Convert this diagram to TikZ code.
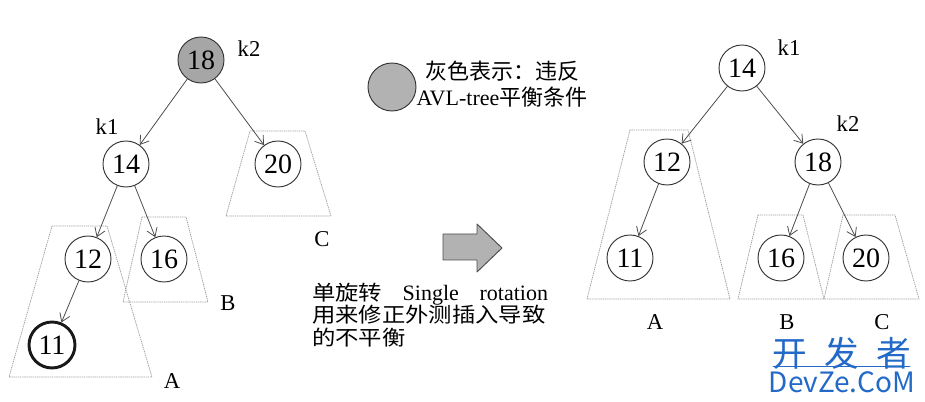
\documentclass[tikz,border=0pt]{standalone}
\usepackage{fontspec}
\setmainfont{Liberation Serif}
\newfontfamily\cjk{Noto Sans CJK SC}
\newfontfamily\cjkwide[FakeStretch=1.13]{Noto Sans CJK SC}
\usetikzlibrary{arrows.meta, positioning}
\definecolor{wmblue}{RGB}{35,105,200}

\begin{document}
\begin{tikzpicture}[x=0.75pt, y=-0.75pt, line cap=round, line join=round]

	%======================
	% STYLES
	%======================
	\tikzset{
		key/.style={circle, draw=black!80, fill=white, line width=0.7pt, minimum size=34.5pt, inner sep=0pt, font=\fontsize{21}{21}\selectfont},
		hot/.style={key, fill=gray!70},
		newkey/.style={key, draw=black!90, line width=2.2pt},
		link/.style={-{Straight Barb[length=6pt, width=8pt]}, draw=black!70, line width=0.6pt},
		subtree/.style={draw=gray!75, densely dotted, line width=0.6pt},
		tag/.style={font=\fontsize{17}{17}\selectfont, inner sep=0pt},
		wm/.style={text=wmblue, inner sep=0pt}
	}
	\useasboundingbox (0,0) rectangle (925,402);

	%======================
	% LEFT TREE (before rotation)
	%======================
	% subtrees
	\draw[subtree] (250,131) -- (305,131) -- (331,216) -- (226,216) -- cycle;
	\draw[subtree] (142,217) -- (186,217) -- (208,302) -- (123,302) -- cycle;
	\draw[subtree] (52,226) -- (107,226) -- (152,377) -- (9,377) -- cycle;

	% keys
	\node[hot] (L18) at (201,60) {18};
	\node[key] (L14) at (126,164) {14};
	\node[key] (L20) at (278,164) {20};
	\node[key] (L12) at (88,259) {12};
	\node[key] (L16) at (164,259) {16};
	\node[newkey] (L11) at (52,345) {11};

	\draw[link] (L18) -- (L14);
	\draw[link] (L18) -- (L20);
	\draw[link] (L14) -- (L12);
	\draw[link] (L14) -- (L16);
	\draw[link] (L12) -- (L11);

	% labels
	\node[tag] (Lk2) at (249,49) {k2};
	\node[tag] (Lk1) at (107,127) {k1};
	\node[tag] (LC) at (322,239) {C};
	\node[tag] (LB) at (228,303) {B};
	\node[tag] (LA) at (172,381) {A};

	%======================
	% LEGEND AND NOTE
	%======================
	\node[hot, minimum size=36pt, fill=gray!60] (legend) at (392,87) {};
	\node[font=\fontsize{16.5}{20}\selectfont, align=center, inner sep=0pt] (legendtxt) at (502,84)
		{{\cjk 灰色表示：违反}\\AVL-tree{\cjk 平衡条件}};

	% block arrow
	\draw[fill=gray!60, draw=black!70, line width=0.7pt]
		(443,234) -- (477,234) -- (477,224) -- (502,248) -- (477,272) -- (477,260) -- (443,260) -- cycle;

	\node[font=\cjkwide\fontsize{15.5}{17}\selectfont, text width=177pt, align=left, inner sep=0pt] (note) at (430,315)
		{单\hfil 旋\hfil 转\hfill{\rmfamily\fontsize{16.5}{17}\selectfont Single}\hfill{\rmfamily\fontsize{16.5}{17}\selectfont rotation}\\
		 用来修正外测插入导致\\
		 的不平衡};

	%======================
	% RIGHT TREE (after rotation)
	%======================
	% subtrees
	\draw[subtree] (630,130) -- (688,130) -- (730,299) -- (587,299) -- cycle;
	\draw[subtree] (758,215) -- (803,215) -- (824,299) -- (738,299) -- cycle;
	\draw[subtree] (843,215) -- (895,215) -- (919,299) -- (824,299) -- cycle;

	% keys
	\node[key] (R14) at (742,68) {14};
	\node[key] (R12) at (667,162) {12};
	\node[key] (R18) at (818,162) {18};
	\node[key] (R11) at (630,258) {11};
	\node[key] (R16) at (781,258) {16};
	\node[key] (R20) at (866,258) {20};

	\draw[link] (R14) -- (R12);
	\draw[link] (R14) -- (R18);
	\draw[link] (R12) -- (R11);
	\draw[link] (R18) -- (R16);
	\draw[link] (R18) -- (R20);

	% labels
	\node[tag] (Rk1) at (789,48) {k1};
	\node[tag] (Rk2) at (848,124) {k2};
	\node[tag] (RA) at (655,322) {A};
	\node[tag] (RB) at (787,322) {B};
	\node[tag] (RC) at (882,322) {C};

	%======================
	% WATERMARK
	%======================
	\node[wm, font=\cjk\fontsize{26}{26}\selectfont] (wmcn) at (842,353) {开\hspace{13pt}发\hspace{13pt}者};
	\node[wm, font=\cjk\fontsize{21}{21}\selectfont] (wmen) at (842,382) {DevZe.CoM};
	\draw[wmblue, line width=0.5pt] (773,366) -- (910,366);

\end{tikzpicture}
\end{document}
